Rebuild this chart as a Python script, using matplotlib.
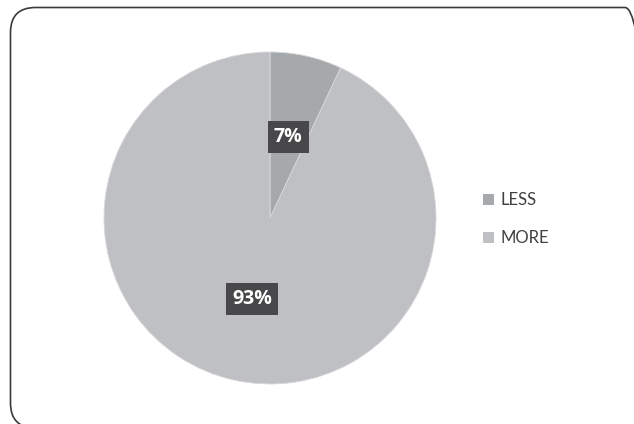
import matplotlib
matplotlib.use("Agg")
import matplotlib.pyplot as plt
from matplotlib.patches import FancyBboxPatch, Patch

categories = ["LESS", "MORE"]
values = [7, 93]
colors = ["#a6a9ac", "#bfc0c4"]

W, H, DPI = 634, 424, 100
fig = plt.figure(figsize=(W / DPI, H / DPI), dpi=DPI)
fig.patch.set_facecolor("white")

# rounded frame around the chart area (runs off the right and bottom edges)
x0, y_top, x1, y_bot, rad = 10.5, 7.5, 650, 428, 25
frame = FancyBboxPatch((x0 / W, 1 - y_bot / H), (x1 - x0) / W, (y_bot - y_top) / H,
                       boxstyle=f"round,pad=0,rounding_size={rad / W}",
                       mutation_aspect=W / H,
                       transform=fig.transFigure,
                       facecolor="none", edgecolor="#3a3a3a", linewidth=1.2)
fig.add_artist(frame)

# pie axes: centre (270, 218) px, radius 166 px
cx, cy, r = 270, 218, 166
ax = fig.add_axes([(cx - r) / W, (H - cy - r) / H, 2 * r / W, 2 * r / H])
wedges, texts, autotexts = ax.pie(
    values, colors=colors, startangle=90, counterclock=False,
    autopct=lambda p: f"{p:.0f}%", pctdistance=0.5,
    wedgeprops=dict(edgecolor="#d8d8da", linewidth=0.6),
    textprops=dict(color="white", fontsize=14, fontweight="bold",
                   family="Open Sans"),
)
for t in autotexts:
    t.set_bbox(dict(boxstyle="square,pad=0.32", facecolor="#48484b",
                    edgecolor="none"))
ax.set_xlim(-1, 1)
ax.set_ylim(-1, 1)

handles = [Patch(facecolor=c, edgecolor="none") for c in colors]
leg = fig.legend(handles, categories, loc="center left",
                 bbox_to_anchor=(483 / W, 1 - 219 / H), frameon=False,
                 prop=dict(family="Lato", size=12),
                 handlelength=0.66, handleheight=0.66, handletextpad=0.42,
                 labelspacing=1.32, borderaxespad=0, borderpad=0)
for t in leg.get_texts():
    t.set_color("#404040")

fig.savefig("out.png", dpi=DPI, facecolor="white")
